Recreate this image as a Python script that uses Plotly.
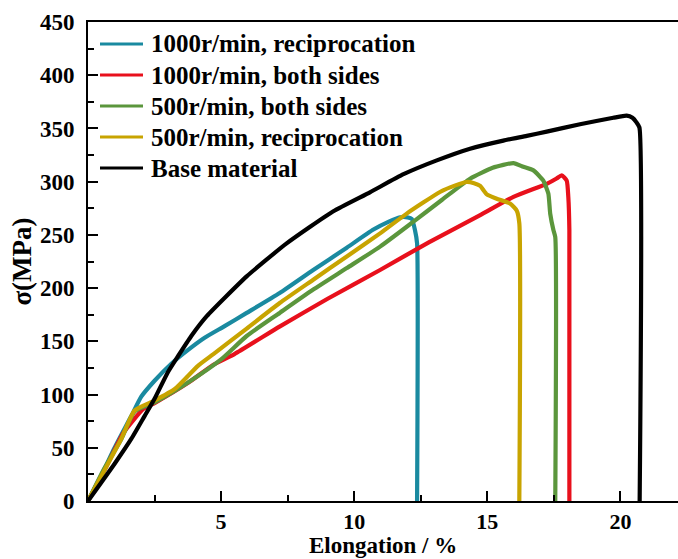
import plotly.graph_objects as go

# Tensile curves: elongation (%) vs stress (MPa)
teal_x = [0, 0.5, 1.0, 1.63, 2.0, 2.5, 3.13, 3.76, 4.38, 5.13, 5.96, 7.2, 8.46, 9.72,
          10.72, 11.3, 11.72, 12.0, 12.16, 12.28, 12.36, 12.36]
teal_y = [0, 24, 50, 80, 98, 113, 129, 142, 153.4, 164.3, 176.7, 195.4, 217, 238,
          255, 262.5, 266.5, 266.5, 265, 254.6, 242, 0]

red_x = [0, 0.6, 1.33, 2.08, 2.5, 3.76, 4.71, 5.5, 7.21, 9.0, 10.97, 12.8, 14.73, 15.98,
         17.23, 17.6, 17.79, 17.98, 18.04, 18.08, 18.08]
red_y = [0, 28, 64, 86.5, 92, 111, 128, 138, 164, 190, 217, 243, 268.6, 285.7,
         298, 303, 306, 301, 285.7, 254.6, 0]

green_x = [0, 0.6, 1.25, 1.75, 2.5, 3.76, 5.0, 5.96, 7.2, 8.46, 9.72, 10.97, 12.2, 13.3,
           14.35, 15.2, 15.98, 16.35, 16.73, 17.1, 17.29, 17.36, 17.48, 17.55, 17.55]
green_y = [0, 30, 58, 84, 92.7, 111.4, 133, 155, 176.7, 198.6, 218.8, 239, 262, 283,
           302.8, 313, 317.5, 314, 310.6, 301, 288.8, 270, 254.6, 248, 0]

yellow_x = [0, 0.6, 1.25, 1.75, 2.5, 3.26, 4.13, 4.71, 5.96, 7.2, 8.46, 9.72, 10.97, 11.97,
            13.22, 13.8, 14.22, 14.5, 14.73, 14.98, 15.35, 15.85, 16.1, 16.2, 16.2]
yellow_y = [0, 28, 58.5, 85, 94.3, 105.2, 127, 138, 162, 186, 207.9, 229.7, 251.4, 270,
            290.3, 296.5, 299.7, 298.5, 296, 288, 284, 279.4, 273, 261, 0]

black_x = [0, 1.0, 1.63, 2.13, 2.5, 3.0, 3.38, 3.88, 4.46, 5.96, 7.46, 9.2, 10.59, 11.85,
           13.1, 14.35, 15.6, 16.48, 17.23, 18.48, 19.73, 20.23, 20.45, 20.6, 20.71, 20.72]
black_y = [0, 35, 58.5, 80, 96, 121, 136, 155, 173.6, 211, 242, 272, 290, 307,
           320, 331, 338.6, 343, 347, 354, 360, 362, 360, 355.7, 351, 0]

series = [
    ("1000r/min, reciprocation", teal_x, teal_y, "#1a8aa0"),
    ("1000r/min, both sides", red_x, red_y, "#e8101c"),
    ("500r/min, both sides", green_x, green_y, "#5b963c"),
    ("500r/min, reciprocation", yellow_x, yellow_y, "#c8a400"),
    ("Base material", black_x, black_y, "#000000"),
]

FONT = "Liberation Serif, Times New Roman, serif"

W, H = 678, 559
ML, MR, MT, MB = 88, 0, 22, 58
PW, PH = W - ML - MR, H - MT - MB


def px_x(p):
    return (p - ML) / PW


def px_y(p):
    return (H - MB - p) / PH


fig = go.Figure()
for name, xs, ys, color in series:
    fig.add_trace(go.Scatter(
        x=xs, y=ys, name=name, mode="lines",
        line=dict(color=color, width=4.2, shape="spline", smoothing=0.5),
        showlegend=False,
    ))

# Legend block in the upper-left corner: short line sample + bold label per series
row_y = [44, 75, 106, 137, 168]
for (name, _, _, color), ry in zip(series, row_y):
    fig.add_shape(type="line", xref="paper", yref="paper",
                  x0=px_x(100), x1=px_x(143), y0=px_y(ry), y1=px_y(ry),
                  line=dict(color=color, width=3))
    fig.add_annotation(text=name, xref="paper", yref="paper",
                       x=px_x(149), y=px_y(ry), xanchor="left", yanchor="middle",
                       showarrow=False,
                       font=dict(family=FONT, size=25, color="black", weight="bold"))

# x-axis title sits along the bottom edge, under the tick labels
fig.add_annotation(text="Elongation / %", xref="paper", yref="paper",
                   x=0.5, y=px_y(H), xanchor="center", yanchor="bottom",
                   showarrow=False, borderpad=0,
                   font=dict(family=FONT, size=23, color="black", weight="bold"))

fig.update_layout(
    width=W, height=H,
    margin=dict(l=ML, r=MR, t=MT, b=MB),
    plot_bgcolor="white", paper_bgcolor="white",
    font=dict(family=FONT, size=23, color="black"),
    showlegend=False,
)

fig.update_xaxes(
    range=[0, 22.16], showgrid=False, zeroline=False,
    showline=True, linecolor="black", linewidth=2, mirror=True,
    tickmode="array", tickvals=[5, 10, 15, 20],
    ticks="inside", ticklen=10, tickwidth=2, tickcolor="black",
    minor=dict(tickmode="array", tickvals=[2.5, 7.5, 12.5, 17.5],
               ticks="inside", ticklen=6, tickwidth=2, tickcolor="black"),
    tickfont=dict(family=FONT, size=22, weight="bold"),
)

fig.update_yaxes(
    range=[0, 450], showgrid=False, zeroline=False,
    showline=True, linecolor="black", linewidth=2, mirror=False,
    tickmode="array", tickvals=list(range(0, 451, 50)),
    ticks="inside", ticklen=10, tickwidth=2, tickcolor="black",
    minor=dict(tickmode="array", tickvals=list(range(25, 450, 50)),
               ticks="inside", ticklen=6, tickwidth=2, tickcolor="black"),
    tickfont=dict(family=FONT, size=23, weight="bold"),
    ticklabelstandoff=7,
    title=dict(text="σ(MPa)", font=dict(family=FONT, size=27, weight="bold"),
               standoff=0),
)

fig.write_html("out.html")
